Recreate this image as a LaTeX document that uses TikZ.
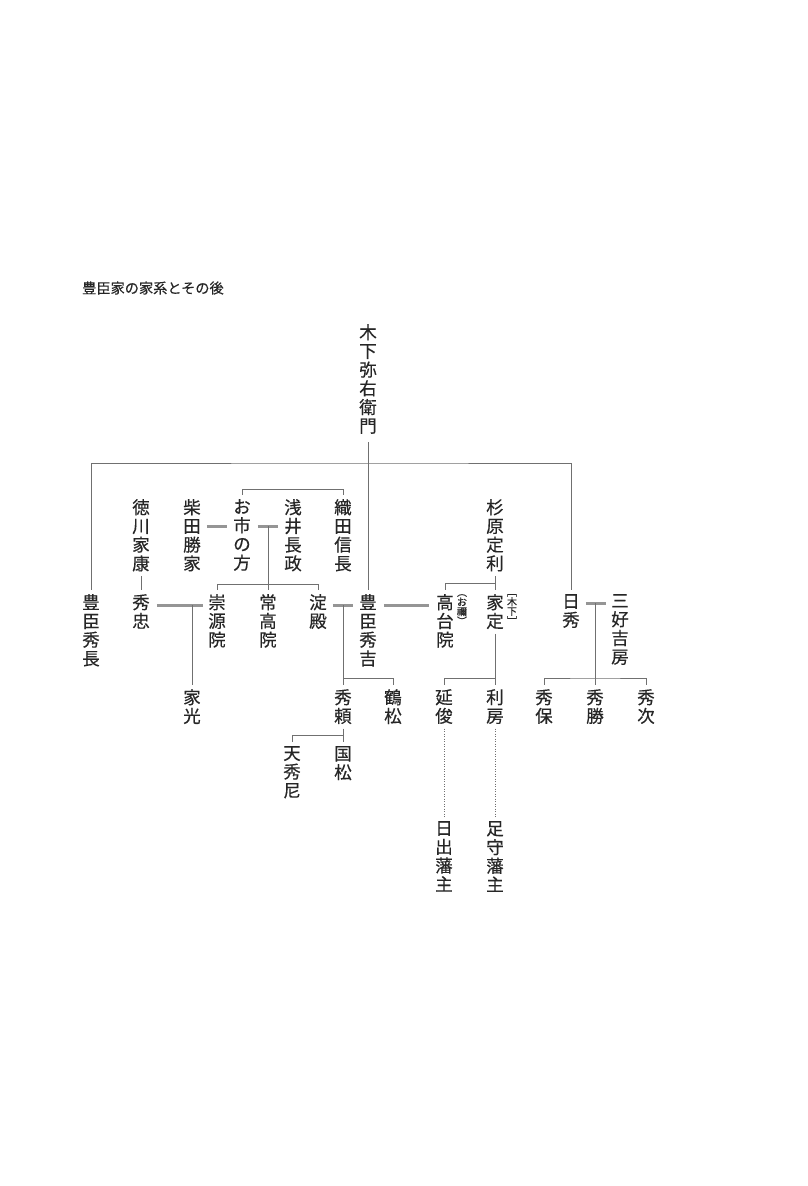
\documentclass[tikz,border=0pt]{standalone}
\usepackage{fontspec}
\usetikzlibrary{calc}
\newfontfamily\jp{Noto Sans CJK JP}[FakeBold=0.35]
\definecolor{moji}{HTML}{262626}
\definecolor{sen}{HTML}{707070}
\definecolor{konin}{HTML}{959595}

\begin{document}
\begin{tikzpicture}[x=1pt,y=-1pt,
    tate/.style={font=\jp\fontsize{17.5}{18.7}\selectfont, text=moji, align=center,
      inner xsep=0pt, inner ysep=4.5pt, anchor=north, yshift=5.5pt},
    chu/.style={font=\jp\fontsize{10}{9.6}\selectfont, text=moji, align=center,
      inner sep=0pt, anchor=north},
    kei/.style={draw=sen, line width=0.9pt},
    kon/.style={draw=konin, line width=3pt},
    ten/.style={draw=sen, line width=0.8pt, dash pattern=on 1.2pt off 1.3pt}]
    \useasboundingbox (0,0) rectangle (807,1186);
    \fill [white] (0,0) rectangle (807,1186);
    \node [font=\jp\fontsize{14.2}{14}\selectfont, text=moji, inner sep=0pt, anchor=west] (title) at (82,288) {豊臣家の家系とその後};
    % first generation
    \node [tate] (yaemon) at (368,325) {木\\下\\弥\\右\\衛\\門};
    % row of parents
    \node [tate] (ieyasu) at (141,500) {徳\\川\\家\\康};
    \node [tate] (katsuie) at (192,500) {柴\\田\\勝\\家};
    \node [tate] (oichi) at (242,500) {お\\市\\の\\方};
    \node [tate] (nagamasa) at (293,500) {浅\\井\\長\\政};
    \node [tate] (nobunaga) at (343,500) {織\\田\\信\\長};
    \node [tate] (sadatoshi) at (495,500) {杉\\原\\定\\利};
    % main row
    \node [tate] (hidenaga) at (91,595) {豊\\臣\\秀\\長};
    \node [tate] (hidetada) at (141,595) {秀\\忠};
    \node [tate] (sugen) at (217,595) {崇\\源\\院};
    \node [tate] (jokoin) at (268,595) {常\\高\\院};
    \node [tate] (yodo) at (318,595) {淀\\殿};
    \node [tate] (hideyoshi) at (368,595) {豊\\臣\\秀\\吉};
    \node [tate] (kodai) at (445,595) {高\\台\\院};
    \node [chu] (kodaichu) at (462,594) {︵\\お\\禰\\︶};
    \node [tate] (iesada) at (495,595) {家\\定};
    \node [chu] (iesadachu) at (512,594) {﹇\\木\\下\\﹈};
    \node [tate] (nisshu) at (571,595) {日\\秀};
    \node [tate] (yoshifusa) at (620,595) {三\\好\\吉\\房};
    % children
    \node [tate] (iemitsu) at (192,690) {家\\光};
    \node [tate] (hideyori) at (343,690) {秀\\頼};
    \node [tate] (tsurumatsu) at (393,690) {鶴\\松};
    \node [tate] (nobutoshi) at (444,690) {延\\俊};
    \node [tate] (toshifusa) at (495,690) {利\\房};
    \node [tate] (hideyasu) at (544,690) {秀\\保};
    \node [tate] (hidekatsu) at (595,690) {秀\\勝};
    \node [tate] (hidetsugu) at (646,690) {秀\\次};
    \node [tate] (tenshu) at (292,747) {天\\秀\\尼};
    \node [tate] (kunimatsu) at (343,747) {国\\松};
    \node [tate] (hiji) at (444,822) {日\\出\\藩\\主};
    \node [tate] (ashimori) at (495,822) {足\\守\\藩\\主};
    % levels
    \coordinate (bar) at (368,463);
    \coordinate (oda) at (0,489);
    \coordinate (asai) at (268,526);
    \coordinate (sanshi) at (0,584);
    \coordinate (sugi) at (0,583);
    \coordinate (tokugawa) at (192,605);
    \coordinate (toyo) at (343,605);
    \coordinate (miyoshi) at (595,603);
    \coordinate (ko) at (0,678);
    \coordinate (mago) at (0,735);
    % lines
    \draw [kei] ($(yaemon.south)+(0,4)$) -- (hideyoshi.north);
    \draw [kei] (hidenaga.north) |- (bar) -| (nisshu.north);
    \draw [kei] (oichi.north) -- (oichi.north |- oda) -| (nobunaga.north);
    \draw [kon] ($(katsuie.east |- asai)+(6,0)$) -- ($(oichi.west |- asai)+(-6,0)$);
    \draw [kon] ($(oichi.east |- asai)+(7,0)$) -- ($(nagamasa.west |- asai)+(-6,0)$);
    \draw [kei] (asai) -- (jokoin.north);
    \draw [kei] (sugen.north) -- (sugen.north |- sanshi) -| (yodo.north);
    \draw [kei] (ieyasu.south) -- (hidetada.north);
    \draw [kon] ($(hidetada.east |- tokugawa)+(7,0)$) -- ($(sugen.west |- tokugawa)+(-5,0)$);
    \draw [kei] (tokugawa) -- (iemitsu.north);
    \draw [kon] ($(yodo.east |- toyo)+(6,0)$) -- ($(hideyoshi.west |- toyo)+(-6,0)$);
    \draw [kei] (toyo) -- (hideyori.north);
    \draw [kei] (hideyori.north |- ko) -| (tsurumatsu.north);
    \draw [kon] ($(hideyoshi.east |- toyo)+(7,0)$) -- ($(kodai.west |- toyo)+(-7,0)$);
    \draw [kei] (sadatoshi.south) -- (iesada.north);
    \draw [kei] (kodai.north) |- (iesada.north |- sugi);
    \draw [kei] (iesada.south) -- (toshifusa.north);
    \draw [kei] (nobutoshi.north) |- (toshifusa.north |- ko);
    \draw [kei] (hideyori.south) -- (kunimatsu.north);
    \draw [kei] (tenshu.north) |- (kunimatsu.north |- mago);
    \draw [ten] (nobutoshi.south) -- (hiji.north);
    \draw [ten] (toshifusa.south) -- (ashimori.north);
    \draw [kon] ($(nisshu.east |- miyoshi)+(6,0)$) -- ($(yoshifusa.west |- miyoshi)+(-5,0)$);
    \draw [kei] (miyoshi) -- (hidekatsu.north);
    \draw [kei] (hideyasu.north) |- (ko -| hidekatsu) -| (hidetsugu.north);
\end{tikzpicture}
\end{document}
